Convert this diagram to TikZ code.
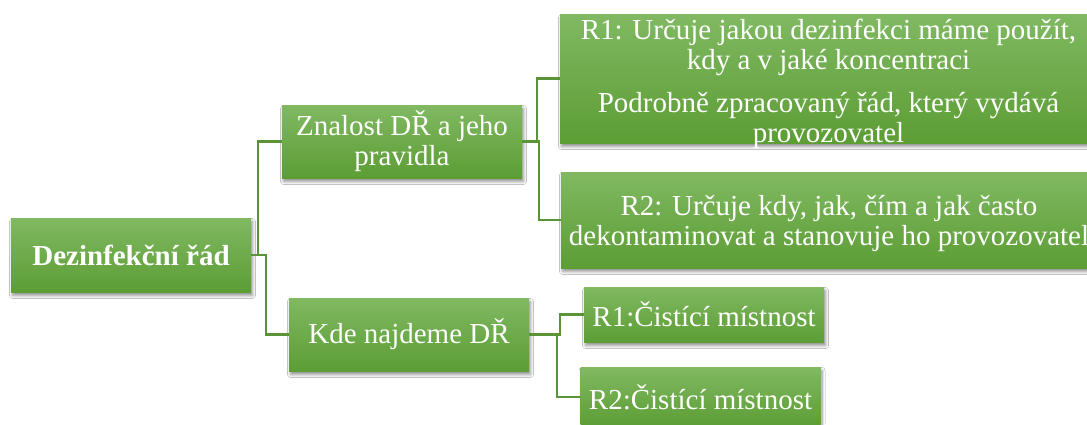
\documentclass[tikz,border=0pt]{standalone}
\usepackage{fontspec}
\setmainfont{Liberation Serif}
\usetikzlibrary{shadows.blur}

\definecolor{boxtop}{HTML}{80B962}
\definecolor{boxbot}{HTML}{5C9D34}
\definecolor{linkgreen}{HTML}{5A9437}

\tikzset{
  box/.style={rectangle, top color=boxtop, bottom color=boxbot, draw=none,
    text=white, align=center, inner sep=0pt,
    font=\fontsize{29}{30}\selectfont,
    blur shadow={shadow xshift=1.5pt, shadow yshift=-3.5pt,
      shadow blur steps=6, shadow blur radius=3pt, shadow opacity=45}},
  boxtext/.style={text=white, align=center, inner sep=0pt,
    font=\fontsize{29}{30}\selectfont},
  link/.style={draw=linkgreen, line width=2.5pt},
}

\begin{document}
\begin{tikzpicture}[x=1pt, y=-1pt]
  \useasboundingbox (0,0) rectangle (1087,424);
  \fill[white] (0,0) rectangle (1087,424);
  \clip (0,0) rectangle (1087,424);

  % tree nodes
  \node[box, minimum width=240, minimum height=74, font=\fontsize{29}{30}\selectfont\bfseries]
    (root) at (131,255) {Dezinfekční řád};
  \node[box, minimum width=240, minimum height=73]
    (zn) at (402,141.5) {Znalost DŘ a jeho\\pravidla};
  \node[box, minimum width=240, minimum height=73]
    (kde) at (409,334.5) {Kde najdeme DŘ};
  \node[box, minimum width=537, minimum height=129] (r1) at (828.5,78.5) {};
  \node[boxtext] (r1t) at ([yshift=-5pt]r1.center)
    {R1: Určuje jakou dezinfekci máme použít,\\kdy a v jaké koncentraci\\[13pt]Podrobně zpracovaný řád, který vydává\\provozovatel};
  \node[box, minimum width=536, minimum height=96] (r2) at (829,220) {};
  \node[boxtext] (r2t) at ([yshift=-3pt]r2.center)
    {R2: Určuje kdy, jak, čím a jak často\\dekontaminovat a stanovuje ho provozovatel};
  \node[box, minimum width=240, minimum height=55]
    (c1) at (704,314.5) {R1:Čistící místnost};
  \node[box, minimum width=240, minimum height=60]
    (c2) at (700.5,397) {R2:Čistící místnost};

  % elbow connectors
  \draw[link] (root.east) -- ++(7,0) |- (zn.west);
  \draw[link] (root.east) -- ++(15,0) |- (kde.west);
  \draw[link] (zn.east) -- ++(15,0) |- (r1.west);
  \draw[link] (zn.east) -- ++(17,0) |- (r2.west);
  \draw[link] (kde.east) -- ++(31,0) |- (c1.west);
  \draw[link] (kde.east) -- ++(28,0) |- (c2.west);
\end{tikzpicture}
\end{document}
